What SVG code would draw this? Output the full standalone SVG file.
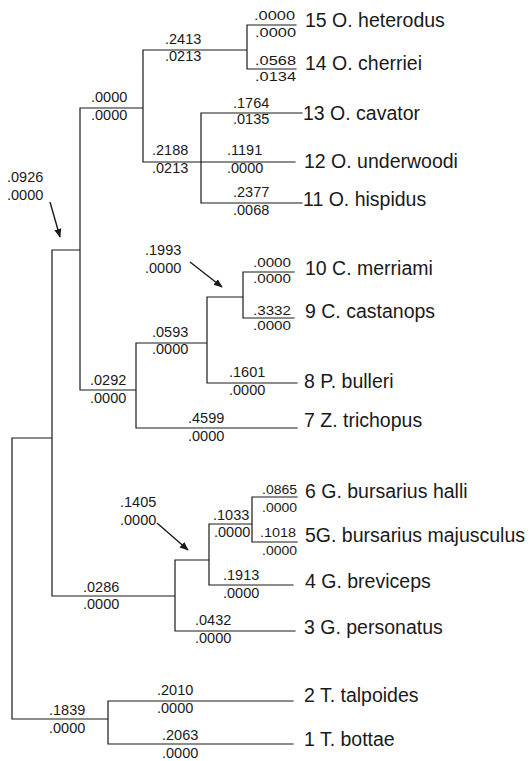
<svg xmlns="http://www.w3.org/2000/svg" width="530" height="761" viewBox="0 0 530 761">
<style>
  .br { fill: none; stroke: #1a1a1a; stroke-width: 1.2; stroke-linecap: square; }
  .ar { fill: none; stroke: #1a1a1a; stroke-width: 1.4; marker-end: url(#ah); }
  text { font-family: "Liberation Sans", Arial, Helvetica, sans-serif; fill: #1a1a1a; }
  .n { font-size: 19.5px; }
  .v { font-size: 14.5px; }
  .s { font-size: 12px; }
</style>
<defs>
  <marker id="ah" viewBox="0 0 10 10" refX="9" refY="5" markerWidth="9" markerHeight="9" markerUnits="userSpaceOnUse" orient="auto">
    <path d="M0 1 L10 5 L0 9 Z" fill="#1a1a1a"/>
  </marker>
</defs>
<rect width="530" height="761" fill="#ffffff"/>
<g id="connectors">
  <path class="br" d="M12 438 V719 M12 438 H52 M52 250 V596 M52 250 H80 M80 108 V390 M80 108 H143 M143 50 V162 M143 50 H247 M247 25 V69 M247 25 H296 M247 69 H296 M143 162 H201 M201 113 V203 M201 113 H302 M201 162 H295 M201 203 H302 M80 390 H136 M136 343 V428 M136 343 H207 M207 297 V383 M207 297 H243 M243 272 V318 M243 272 H294 M243 318 H294 M207 383 H297 M136 428 H297 M52 596 H175 M175 560 V631 M175 560 H209 M209 524 V585 M209 524 H252 M252 497 V542 M252 497 H297 M252 542 H297 M209 585 H293 M175 631 H295 M12 719 H108 M108 701 V744 M108 701 H293 M108 744 H293"/>
  <path class="ar" d="M50 202 L60 237"/>
  <path class="ar" d="M190 262 L222 287"/>
  <path class="ar" d="M157 523 L188 550"/>
</g>
<g id="node-a">
  <text class="v" x="7" y="182">.0926</text>
  <text class="v" x="7" y="200">.0000</text>
</g>
<g id="node-b">
  <text class="v" x="91" y="102">.0000</text>
  <text class="v" x="91" y="120">.0000</text>
</g>
<g id="node-c">
  <text class="v" x="165" y="44">.2413</text>
  <text class="v" x="165" y="61">.0213</text>
</g>
<g id="node-d">
  <text class="v" x="152" y="155">.2188</text>
  <text class="v" x="152" y="173">.0213</text>
</g>
<g id="leaf-15">
  <text class="s" x="254" y="20" textLength="41" lengthAdjust="spacingAndGlyphs">.0000</text>
  <text class="s" x="255" y="37" textLength="41" lengthAdjust="spacingAndGlyphs">.0000</text>
  <text class="n" x="305" y="27">15 O. heterodus</text>
</g>
<g id="leaf-14">
  <text class="s" x="255" y="65" textLength="41" lengthAdjust="spacingAndGlyphs">.0568</text>
  <text class="s" x="255" y="81" textLength="41" lengthAdjust="spacingAndGlyphs">.0134</text>
  <text class="n" x="305" y="70">14 O. cherriei</text>
</g>
<g id="leaf-13">
  <text class="v" x="233" y="108">.1764</text>
  <text class="v" x="233" y="124">.0135</text>
  <text class="n" x="303" y="120">13 O. cavator</text>
</g>
<g id="leaf-12">
  <text class="v" x="227" y="155">.1191</text>
  <text class="v" x="227" y="173">.0000</text>
  <text class="n" x="304" y="168">12 O. underwoodi</text>
</g>
<g id="leaf-11">
  <text class="v" x="233" y="197">.2377</text>
  <text class="v" x="233" y="215">.0068</text>
  <text class="n" x="303" y="206">11 O. hispidus</text>
</g>
<g id="node-e">
  <text class="v" x="90" y="385">.0292</text>
  <text class="v" x="90" y="403">.0000</text>
</g>
<g id="node-f">
  <text class="v" x="152" y="337">.0593</text>
  <text class="v" x="152" y="354">.0000</text>
</g>
<g id="node-g">
  <text class="v" x="145" y="255">.1993</text>
  <text class="v" x="145" y="273">.0000</text>
</g>
<g id="leaf-10">
  <text class="s" x="253" y="267" textLength="38" lengthAdjust="spacingAndGlyphs">.0000</text>
  <text class="s" x="253" y="283" textLength="38" lengthAdjust="spacingAndGlyphs">.0000</text>
  <text class="n" x="305" y="275">10 C. merriami</text>
</g>
<g id="leaf-9">
  <text class="s" x="253" y="315" textLength="38" lengthAdjust="spacingAndGlyphs">.3332</text>
  <text class="s" x="253" y="330" textLength="38" lengthAdjust="spacingAndGlyphs">.0000</text>
  <text class="n" x="305" y="318">9 C. castanops</text>
</g>
<g id="leaf-8">
  <text class="v" x="229" y="377">.1601</text>
  <text class="v" x="229" y="395">.0000</text>
  <text class="n" x="304" y="388">8 P. bulleri</text>
</g>
<g id="leaf-7">
  <text class="v" x="188" y="423">.4599</text>
  <text class="v" x="188" y="441">.0000</text>
  <text class="n" x="304" y="427">7 Z. trichopus</text>
</g>
<g id="node-h">
  <text class="v" x="83" y="592">.0286</text>
  <text class="v" x="83" y="609">.0000</text>
</g>
<g id="node-i">
  <text class="v" x="120" y="507">.1405</text>
  <text class="v" x="120" y="525">.0000</text>
</g>
<g id="node-j">
  <text class="v" x="213" y="520">.1033</text>
  <text class="v" x="214" y="537">.0000</text>
</g>
<g id="leaf-6">
  <text class="s" x="262" y="494" textLength="35" lengthAdjust="spacingAndGlyphs">.0865</text>
  <text class="s" x="262" y="512" textLength="35" lengthAdjust="spacingAndGlyphs">.0000</text>
  <text class="n" x="305" y="498">6 G. bursarius halli</text>
</g>
<g id="leaf-5">
  <text class="s" x="260" y="537" textLength="36" lengthAdjust="spacingAndGlyphs">.1018</text>
  <text class="s" x="262" y="555" textLength="35" lengthAdjust="spacingAndGlyphs">.0000</text>
  <text class="n" x="305" y="542">5G. bursarius majusculus</text>
</g>
<g id="leaf-4">
  <text class="v" x="223" y="580">.1913</text>
  <text class="v" x="223" y="598">.0000</text>
  <text class="n" x="305" y="588">4 G. breviceps</text>
</g>
<g id="leaf-3">
  <text class="v" x="195" y="625">.0432</text>
  <text class="v" x="195" y="643">.0000</text>
  <text class="n" x="304" y="634">3 G. personatus</text>
</g>
<g id="node-k">
  <text class="v" x="49" y="715">.1839</text>
  <text class="v" x="49" y="733">.0000</text>
</g>
<g id="leaf-2">
  <text class="v" x="157" y="695">.2010</text>
  <text class="v" x="157" y="713">.0000</text>
  <text class="n" x="304" y="702">2 T. talpoides</text>
</g>
<g id="leaf-1">
  <text class="v" x="162" y="740">.2063</text>
  <text class="v" x="162" y="758">.0000</text>
  <text class="n" x="304" y="746">1 T. bottae</text>
</g>
</svg>
